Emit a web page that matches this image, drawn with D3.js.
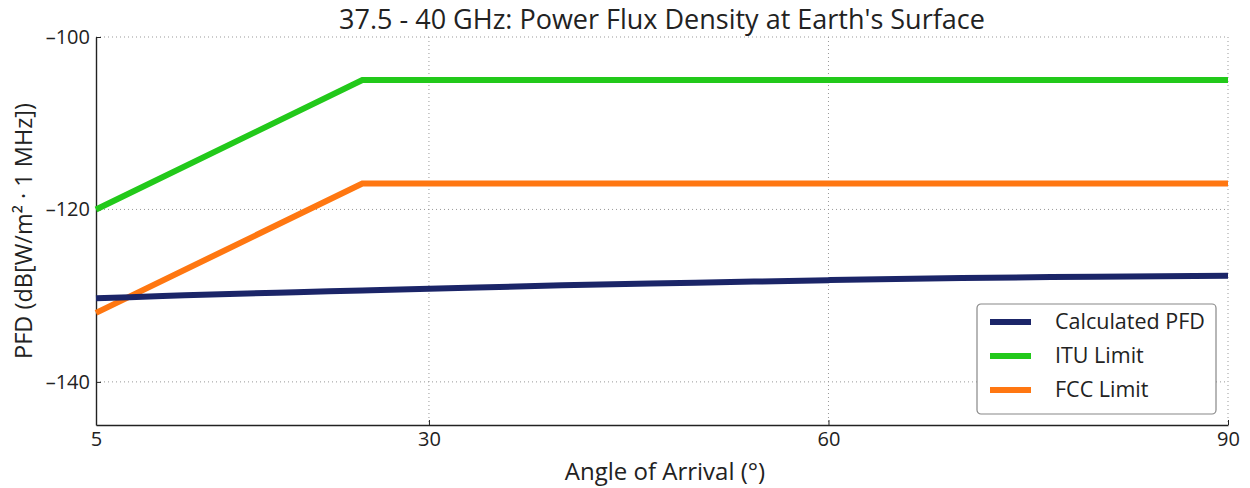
<!DOCTYPE html>
<html><head><meta charset="utf-8">
<script src="https://cdn.jsdelivr.net/npm/d3@7"></script>
<style>body{margin:0;background:#fff}svg{display:block}text{font-family:"Open Sans",sans-serif;fill:#222}</style>
</head><body>
<svg id="c" width="1250" height="488"></svg>
<script>
const calcAngles = [5,10,15,20,25,30,40,50,60,70,80,90];
const calcPFD = [-130.3,-130.05,-129.8,-129.6,-129.4,-129.2,-128.8,-128.5,-128.2,-127.95,-127.8,-127.7];
const ituAngles = [5,25,90];
const ituPFD = [-120,-105,-105];
const fccAngles = [5,25,90];
const fccPFD = [-132,-117,-117];
const xTicks = [5,30,60,90];
const yTicks = [-100,-120,-140];
const seriesNames = ["Calculated PFD","ITU Limit","FCC Limit"];
const seriesColors = ["#1b2568","#22c91a","#ff7711"];

const svg = d3.select("#c");
const L=96,R=1228,T=37,B=425;
const x = d3.scaleLinear().domain([5,90]).range([L,R]);
const y = d3.scaleLinear().domain([-145,-100]).range([B,T]);

// grid
const g = svg.append("g");
g.selectAll(".gx").data(xTicks.filter(d=>d!==5)).enter().append("line")
 .attr("x1",d=>x(d)).attr("x2",d=>x(d)).attr("y1",T).attr("y2",B)
 .attr("stroke","#999").attr("stroke-width",1).attr("stroke-dasharray","1,3");
g.selectAll(".gy").data(yTicks).enter().append("line")
 .attr("x1",L).attr("x2",R).attr("y1",d=>y(d)).attr("y2",d=>y(d))
 .attr("stroke","#999").attr("stroke-width",1).attr("stroke-dasharray","1,3");

// axes
const xa = svg.append("g").attr("transform",`translate(0,${B})`)
 .call(d3.axisBottom(x).tickValues(xTicks).tickSizeInner(-5).tickSizeOuter(0).tickPadding(7));
const ya = svg.append("g").attr("transform",`translate(${L},0)`)
 .call(d3.axisLeft(y).tickValues(yTicks).tickSizeInner(-5).tickSizeOuter(0).tickPadding(6).tickFormat(d=>"\u2013"+Math.abs(d)));
[xa,ya].forEach(a=>{a.select(".domain").attr("stroke","#222").attr("stroke-width",1.4);
 a.selectAll(".tick line").attr("stroke","#222");
 a.selectAll(".tick text").style("font-size","20px").style("font-family","Open Sans").attr("fill","#222");});

// lines
const line = d3.line().x(d=>x(d[0])).y(d=>y(d[1])).curve(d3.curveMonotoneX);
const lin = d3.line().x(d=>x(d[0])).y(d=>y(d[1]));
const plot = svg.append("g");
plot.append("path").datum(ituAngles.map((a,i)=>[a,ituPFD[i]])).attr("d",lin)
 .attr("fill","none").attr("stroke",seriesColors[1]).attr("stroke-width",6);
plot.append("path").datum(fccAngles.map((a,i)=>[a,fccPFD[i]])).attr("d",lin)
 .attr("fill","none").attr("stroke",seriesColors[2]).attr("stroke-width",6);
plot.append("path").datum(calcAngles.map((a,i)=>[a,calcPFD[i]])).attr("d",line)
 .attr("fill","none").attr("stroke",seriesColors[0]).attr("stroke-width",6);

// title & labels
svg.append("text").attr("x",662).attr("y",29).attr("text-anchor","middle")
 .style("font-size","27px").text("37.5 - 40 GHz: Power Flux Density at Earth's Surface");
svg.append("text").attr("x",665).attr("y",480).attr("text-anchor","middle")
 .style("font-size","24px").text("Angle of Arrival (°)");
svg.append("text").attr("transform","translate(32,231) rotate(-90)").attr("text-anchor","middle")
 .style("font-size","23.5px").text("PFD (dB[W/m² · 1 MHz])");

// legend
const lg = svg.append("g").attr("transform","translate(977,304)");
lg.append("rect").attr("width",239).attr("height",110).attr("rx",4)
 .attr("fill","#fff").attr("stroke","#888").attr("stroke-width",1.2);
seriesNames.forEach((n,i)=>{
 const yy = 18 + i*34;
 lg.append("line").attr("x1",13).attr("x2",54).attr("y1",yy).attr("y2",yy)
  .attr("stroke",seriesColors[i]).attr("stroke-width",6);
 lg.append("text").attr("x",78).attr("y",yy+7).style("font-size","21.5px").text(n);
});
</script>
</body></html>
